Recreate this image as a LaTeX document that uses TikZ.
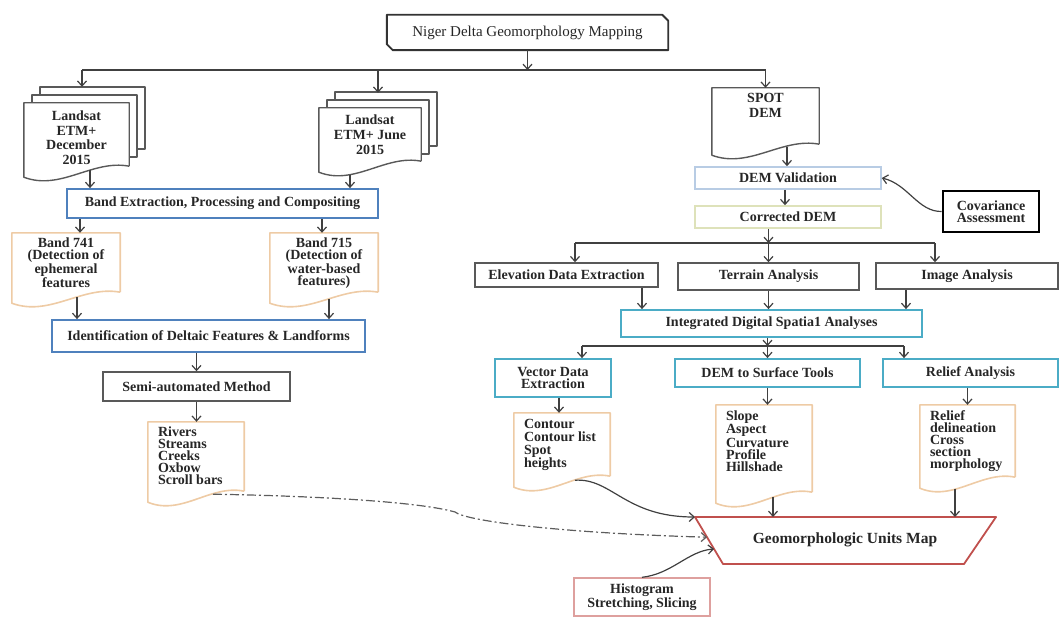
\documentclass[tikz,border=0pt]{standalone}
\usepackage{fontspec}
\setmainfont{Liberation Serif}
\usetikzlibrary{arrows.meta,calc}

\definecolor{cline}{RGB}{64,64,64}
\definecolor{cgray}{RGB}{89,89,89}
\definecolor{cblue}{RGB}{79,129,189}
\definecolor{cteal}{RGB}{75,172,198}
\definecolor{ctan}{RGB}{238,203,165}
\definecolor{cval}{RGB}{184,204,228}
\definecolor{ccor}{RGB}{222,226,186}
\definecolor{cred}{RGB}{192,80,77}
\definecolor{cpink}{RGB}{222,160,158}

% text block of a document shape: width, height, top gap, text
\newcommand{\doctext}[4]{\parbox[c][#2][t]{#1}{\vspace*{#3}#4}}
% document outline with a wavy bottom: node, style
\newcommand{\docshape}[2]{%
  \draw [#2] ([yshift=14.5pt]#1.south east) -- (#1.north east) -- (#1.north west)
    -- ([yshift=3.5pt]#1.south west)
    .. controls ($(#1.south west)!0.35!(#1.south east)+(0pt,-10.5pt)$)
    and ($(#1.south west)!0.65!(#1.south east)+(0pt,21.5pt)$)
    .. ([yshift=14.5pt]#1.south east);}

\tikzset{
  conn/.style={draw=cline, line width=1.2pt},
  titlebox/.style={minimum width=281pt, minimum height=35pt,
    font=\fontsize{15}{15}\selectfont\mdseries},
  titleline/.style={draw=black!80, line width=1.9pt, line join=round},
  graybox/.style={draw=cgray, line width=1.5pt},
  bluebox/.style={draw=cblue, line width=1.8pt},
  tealbox/.style={draw=cteal, line width=1.8pt, align=center},
  docnode/.style={inner sep=0pt},
  docgray/.style={draw=cgray, line width=1.4pt, line join=round},
  doctan/.style={draw=ctan, line width=1.6pt, line join=round},
}

\begin{document}
\begin{tikzpicture}[x=1pt, y=-1pt, >={Straight Barb[length=5pt,width=9pt]},
    font=\fontsize{14}{12}\selectfont\bfseries, text=black!85]
  \useasboundingbox (0,0) rectangle (1061,618);

  % title, two corners cut
  \node [titlebox] (title) at (527.5,32.5) {Niger Delta Geomorphology Mapping};
  \draw [titleline] (title.north west) -- ([xshift=-6pt]title.north east) -- ([yshift=-6pt]title.north east)
    -- (title.south east) -- ([xshift=6pt]title.south west) -- ([yshift=6pt]title.south west) -- cycle;
  \coordinate (bus) at (0,70);

  % Landsat stacks
  \foreach \d in {8,16} {
    \draw [docgray] (24+\d,111-\d) -- (24+\d,103-\d) -- (129+\d,103-\d) -- (129+\d,165-\d) -- (121+\d,165-\d);
    \draw [docgray] (319+\d,116-\d) -- (319+\d,108-\d) -- (421+\d,108-\d) -- (421+\d,162-\d) -- (413+\d,162-\d);
  }
  \node [docnode] (ldec) at (76.5,141.75) {\doctext{105pt}{77.5pt}{8pt}{\centering\fontsize{14}{14.5}\selectfont Landsat\\ETM+\\December\\2015}};
  \node [docnode] (ljun) at (370,141.75) {\doctext{102pt}{67.5pt}{7pt}{\centering\fontsize{14}{15}\selectfont Landsat\\ETM+ June\\2015}};
  \docshape{ldec}{docgray}
  \docshape{ljun}{docgray}

  % left branch
  \node [bluebox, minimum width=311pt, minimum height=29pt] (bandx) at (222.5,203.5) {Band Extraction, Processing and Compositing};
  \node [docnode] (b741) at (66,269.75) {\doctext{108pt}{73.5pt}{5pt}{\centering Band 741\\(Detection of\\ephemeral\\features}};
  \node [docnode] (b715) at (324,269.75) {\doctext{108pt}{73.5pt}{5pt}{\centering Band 715\\(Detection of\\water-based\\features)}};
  \docshape{b741}{doctan}
  \docshape{b715}{doctan}
  \node [bluebox, minimum width=313pt, minimum height=32pt] (ident) at (208.5,336) {Identification of Deltaic Features \& Landforms};
  \node [graybox, minimum width=187pt, minimum height=29pt] (semi) at (196.5,386.5) {Semi-automated Method};
  \node [docnode] (rivers) at (196,463.75) {\doctext{96pt}{83.5pt}{5pt}{\raggedright\leftskip=10pt Rivers\\Streams\\Creeks\\Oxbow\\Scroll bars}};
  \docshape{rivers}{doctan}

  % right branch
  \node [docnode] (spot) at (765.5,123.25) {\doctext{107pt}{70.5pt}{5pt}{\centering SPOT\\[3pt]DEM}};
  \docshape{spot}{docgray}
  \node [draw=cval, line width=1.6pt, minimum width=186pt, minimum height=22pt] (demval) at (788,178) {DEM Validation};
  \node [draw=ccor, line width=1.6pt, minimum width=186pt, minimum height=22pt] (cordem) at (788,217) {Corrected DEM};
  \node [draw=black, line width=2.6pt, minimum width=96pt, minimum height=41pt, align=center] (covar) at (991,211.5) {Covariance\\Assessment};
  \coordinate (bus2) at (0,243);
  \node [graybox, minimum width=183pt, minimum height=24pt] (elev) at (566.5,275) {Elevation Data Extraction};
  \node [graybox, minimum width=181pt, minimum height=27pt] (terr) at (768.5,276.5) {Terrain Analysis};
  \node [graybox, minimum width=182pt, minimum height=26pt] (img) at (967,276) {Image Analysis};
  \node [tealbox, minimum width=301pt, minimum height=27pt] (integ) at (771.5,323.5) {Integrated Digital Spatia1 Analyses};
  \coordinate (bus3) at (0,346);
  \node [tealbox, minimum width=116pt, minimum height=38pt] (vect) at (553,378) {Vector Data\\Extraction};
  \node [tealbox, minimum width=185pt, minimum height=28pt] (dems) at (767.5,373) {DEM to Surface Tools};
  \node [tealbox, minimum width=175pt, minimum height=28pt] (relan) at (970.5,373) {Relief Analysis};
  \node [docnode] (contour) at (562,451.75) {\doctext{96pt}{77.5pt}{6pt}{\raggedright\leftskip=10pt\fontsize{14}{13}\selectfont Contour\\Contour list\\Spot\\heights}};
  \node [docnode] (slope) at (764,455.75) {\doctext{96pt}{101.5pt}{6pt}{\raggedright\leftskip=10pt Slope\\Aspect\\Curvature\\Profile\\Hillshade}};
  \node [docnode] (relief) at (967.5,448.25) {\doctext{95pt}{86.5pt}{6pt}{\raggedright\leftskip=10pt Relief\\delineation\\Cross\\section\\morphology}};
  \docshape{contour}{doctan}
  \docshape{slope}{doctan}
  \docshape{relief}{doctan}

  % output map
  \coordinate (m1) at (695,517);
  \coordinate (m2) at (996,517);
  \coordinate (m3) at (964,564);
  \coordinate (m4) at (723,564);
  \draw [draw=cred, line width=1.8pt, line join=round] (m1) -- (m2) -- (m3) -- (m4) -- cycle;
  \node [font=\fontsize{15.5}{16}\selectfont\bfseries] (map) at (845,540) {Geomorphologic Units Map};
  \node [draw=cpink, line width=1.4pt, minimum width=136pt, minimum height=38pt, align=center, font=\fontsize{14}{14}\selectfont\bfseries] (hist) at (642,597) {Histogram\\Stretching, Slicing};

  % connectors, left
  \draw [conn, ->] (title.south) -- (title.south |- bus);
  \draw [conn] ([xshift=5.5pt]ldec.north |- bus) -- (spot.north |- bus);
  \draw [conn, ->] ([xshift=5.5pt]ldec.north |- bus) -- ([xshift=5.5pt,yshift=16pt]ldec.north);
  \draw [conn, ->] ([xshift=8pt]ljun.north |- bus) -- ([xshift=8pt,yshift=15pt]ljun.north);
  \draw [conn, ->] (spot.north |- bus) -- (spot.north);
  \draw [conn, ->] ([xshift=13.5pt,yshift=10.5pt]ldec.south) -- ([xshift=13.5pt]ldec.south |- bandx.north);
  \draw [conn, ->] ([xshift=-20pt,yshift=1pt]ljun.south) -- ([xshift=-20pt]ljun.south |- bandx.north);
  \draw [conn, ->] ([xshift=14pt]b741.north |- bandx.south) -- ([xshift=14pt]b741.north);
  \draw [conn, ->] ([xshift=-2pt]b715.north |- bandx.south) -- ([xshift=-2pt]b715.north);
  \draw [conn, ->] ([xshift=11pt,yshift=9.5pt]b741.south) -- ([xshift=11pt]b741.south |- ident.north);
  \draw [conn, ->] ([xshift=5pt,yshift=8pt]b715.south) -- ([xshift=5pt]b715.south |- ident.north);
  \draw [conn, ->] (semi.north |- ident.south) -- (semi.north);
  \draw [conn, ->] (semi.south) -- (semi.south |- rivers.north);

  % connectors, right
  \draw [conn, ->] ([xshift=21.5pt,yshift=12pt]spot.south) -- ([xshift=21.5pt]spot.south |- demval.north);
  \draw [conn, ->] ([xshift=-3pt]demval.south) -- ([xshift=-3pt]cordem.north);
  \draw [conn, ->] (covar.west) .. controls (918,212) and (908,184) .. (demval.east);
  \draw [conn, ->] (terr.north |- cordem.south) -- (terr.north |- bus2);
  \draw [conn] ([xshift=8.5pt]elev.north |- bus2) -- ([xshift=-32pt]img.north |- bus2);
  \draw [conn, ->] ([xshift=8.5pt]elev.north |- bus2) -- ([xshift=8.5pt]elev.north);
  \draw [conn, ->] (terr.north |- bus2) -- (terr.north);
  \draw [conn, ->] ([xshift=-32pt]img.north |- bus2) -- ([xshift=-32pt]img.north);
  \draw [conn, ->] ([xshift=75.5pt]elev.south) -- ([xshift=75.5pt]elev.south |- integ.north);
  \draw [conn, ->] (terr.south) -- (terr.south |- integ.north);
  \draw [conn, ->] ([xshift=-61pt]img.south) -- ([xshift=-61pt]img.south |- integ.north);
  \draw [conn, ->] (dems.north |- integ.south) -- (dems.north |- bus3);
  \draw [conn] ([xshift=29pt]vect.north |- bus3) -- ([xshift=-66.5pt]relan.north |- bus3);
  \draw [conn, ->] ([xshift=29pt]vect.north |- bus3) -- ([xshift=29pt]vect.north);
  \draw [conn, ->] (dems.north |- bus3) -- (dems.north);
  \draw [conn, ->] ([xshift=-66.5pt]relan.north |- bus3) -- ([xshift=-66.5pt]relan.north);
  \draw [conn, ->] ([xshift=6pt]vect.south) -- ([xshift=6pt]vect.south |- contour.north);
  \draw [conn, ->] (dems.south) -- (dems.south |- slope.north);
  \draw [conn, ->] (relief.north |- relan.south) -- (relief.north);

  % into the map
  \draw [conn, ->] ([xshift=9pt,yshift=9.5pt]slope.south) -- ([xshift=9pt]slope.south |- m1);
  \draw [conn, ->] ([xshift=-12.5pt,yshift=3pt]relief.south) -- ([xshift=-12.5pt]relief.south |- m1);
  \draw [conn, ->] ([xshift=13pt,yshift=10.5pt]contour.south) .. controls (612,478) and (625,517) .. (m1);
  \draw [conn, ->, draw=cline!85, dash pattern=on 9pt off 3pt on 2pt off 3pt] ([xshift=17pt,yshift=11.5pt]rivers.south)
    .. controls (320,496) and (420,502) .. (455,512) .. controls (466,521) and (560,533) .. ($(m1)!0.43!(m4)$);
  \draw [conn, ->] (hist.north) .. controls (672,574) and (688,551) .. ($(m1)!0.68!(m4)$);
\end{tikzpicture}
\end{document}
